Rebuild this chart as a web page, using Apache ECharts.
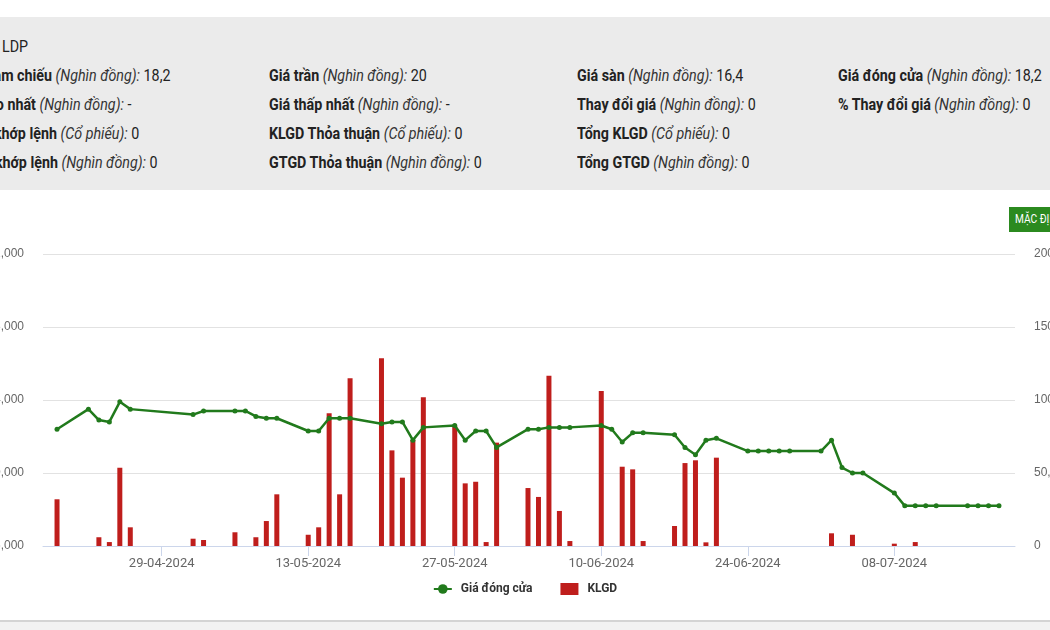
<!DOCTYPE html>
<html>
<head>
<meta charset="utf-8">
<script src="https://cdn.jsdelivr.net/npm/echarts@6/dist/echarts.min.js"></script>
<style>
  html, body { margin: 0; padding: 0; width: 1050px; height: 630px; overflow: hidden; background: #fff; }
  #chart { position: absolute; left: 0; top: 0; width: 1050px; height: 630px; }
  .panel { position: absolute; left: 0; top: 17px; width: 1050px; height: 173px; background: #ebebeb; z-index: 2; }
  .t { position: absolute; white-space: nowrap; font-family: Roboto, "Liberation Sans", sans-serif; font-size: 17px; color: #222; line-height: 20px;
       transform: scaleX(0.84); transform-origin: 0 50%; }
  .t b { font-weight: bold; }
  .t i { font-style: italic; color: #333; }
  .btn { position: absolute; left: 1009px; top: 207px; width: 60px; height: 25px; background: #2b8a1f; color: #fff; z-index: 2;
         font-family: Roboto, sans-serif; font-size: 12px; line-height: 25px; padding-left: 6px; box-sizing: border-box; white-space: nowrap; }
  .btn span { display: inline-block; transform: scaleX(0.85); transform-origin: 0 50%; }
  .foot { position: absolute; left: 0; top: 620px; width: 1050px; height: 10px; background: #f2f2f2; border-top: 2px solid #d4d4d4; z-index: 2; }
</style>
</head>
<body>
<div id="chart"></div>
<div class="panel">
  <div class="t" style="left:2px;top:19px">LDP</div>
  <div class="t" style="left:-44px;top:48px"><b>Giá tham chiếu</b> <i>(Nghìn đồng):</i> 18,2</div>
  <div class="t" style="left:-44px;top:77px"><b>Giá cao nhất</b> <i>(Nghìn đồng):</i> -</div>
  <div class="t" style="left:-45px;top:106px"><b>KLGD khớp lệnh</b> <i>(Cổ phiếu):</i> 0</div>
  <div class="t" style="left:-46px;top:135px"><b>GTGD khớp lệnh</b> <i>(Nghìn đồng):</i> 0</div>

  <div class="t" style="left:269px;top:48px"><b>Giá trần</b> <i>(Nghìn đồng):</i> 20</div>
  <div class="t" style="left:269px;top:77px"><b>Giá thấp nhất</b> <i>(Nghìn đồng):</i> -</div>
  <div class="t" style="left:269px;top:106px"><b>KLGD Thỏa thuận</b> <i>(Cổ phiếu):</i> 0</div>
  <div class="t" style="left:269px;top:135px"><b>GTGD Thỏa thuận</b> <i>(Nghìn đồng):</i> 0</div>

  <div class="t" style="left:577px;top:48px"><b>Giá sàn</b> <i>(Nghìn đồng):</i> 16,4</div>
  <div class="t" style="left:577px;top:77px"><b>Thay đổi giá</b> <i>(Nghìn đồng):</i> 0</div>
  <div class="t" style="left:577px;top:106px"><b>Tổng KLGD</b> <i>(Cổ phiếu):</i> 0</div>
  <div class="t" style="left:577px;top:135px"><b>Tổng GTGD</b> <i>(Nghìn đồng):</i> 0</div>

  <div class="t" style="left:838px;top:48px"><b>Giá đóng cửa</b> <i>(Nghìn đồng):</i> 18,2</div>
  <div class="t" style="left:838px;top:77px"><b>% Thay đổi giá</b> <i>(Nghìn đồng):</i> 0</div>
</div>
<div class="btn"><span>MẶC ĐỊNH</span></div>
<div class="foot"></div>
<script>
// trading days shown on the chart
const dates = [
  '2024-04-19', '2024-04-22', '2024-04-23', '2024-04-24', '2024-04-25', '2024-04-26',
  '2024-05-02', '2024-05-03',
  '2024-05-06', '2024-05-07', '2024-05-08', '2024-05-09', '2024-05-10',
  '2024-05-13', '2024-05-14', '2024-05-15', '2024-05-16', '2024-05-17',
  '2024-05-20', '2024-05-21', '2024-05-22', '2024-05-23', '2024-05-24',
  '2024-05-27', '2024-05-28', '2024-05-29', '2024-05-30', '2024-05-31',
  '2024-06-03', '2024-06-04', '2024-06-05', '2024-06-06', '2024-06-07',
  '2024-06-10', '2024-06-11', '2024-06-12', '2024-06-13', '2024-06-14',
  '2024-06-17', '2024-06-18', '2024-06-19', '2024-06-20', '2024-06-21',
  '2024-06-24', '2024-06-25', '2024-06-26', '2024-06-27', '2024-06-28',
  '2024-07-01', '2024-07-02', '2024-07-03', '2024-07-04', '2024-07-05',
  '2024-07-08', '2024-07-09', '2024-07-10', '2024-07-11', '2024-07-12',
  '2024-07-15', '2024-07-16', '2024-07-17', '2024-07-18'
];

// Giá đóng cửa (đồng)
const closePrice = [
  22400, 23500, 22900, 22800, 23900, 23500,
  23200, 23400,
  23400, 23400, 23100, 23000, 23000,
  22300, 22300, 23000, 23000, 23000,
  22700, 22800, 22800, 21800, 22500,
  22600, 21800, 22300, 22300, 21400,
  22400, 22400, 22500, 22500, 22500,
  22600, 22400, 21700, 22200, 22200,
  22100, 21400, 21000, 21800, 21900,
  21200, 21200, 21200, 21200, 21200,
  21200, 21800, 20300, 20000, 20000,
  18900, 18200, 18200, 18200, 18200,
  18200, 18200, 18200, 18200
];

// KLGD (cổ phiếu)
const volume = [
  32000, 0, 6000, 2700, 53600, 12800,
  5000, 4100,
  9400, 0, 6000, 17100, 35400,
  7700, 12800, 90900, 35400, 114900,
  128600, 65500, 46800, 72600, 101800,
  82200, 42900, 44000, 2700, 70800,
  39700, 33600, 116600, 24000, 3400,
  106200, 0, 54300, 52500, 3400,
  13700, 56800, 58700, 2500, 60500,
  0, 0, 0, 0, 0,
  0, 8700, 0, 7700, 0,
  1600, 0, 2700, 0, 0,
  0, 0, 0, 0
];

const tickDates = ['2024-04-29', '2024-05-13', '2024-05-27', '2024-06-10', '2024-06-24', '2024-07-08'];

const DAY = 86400000;
const ts = s => { const p = s.split('-'); return +new Date(+p[0], +p[1] - 1, +p[2]); };
const pad = n => (n < 10 ? '0' : '') + n;
const fmtNum = v => String(v).replace(/\B(?=(\d{3})+(?!\d))/g, ',');
const fmtDate = v => { const d = new Date(v); return pad(d.getDate()) + '-' + pad(d.getMonth() + 1) + '-' + d.getFullYear(); };

const chart = echarts.init(document.getElementById('chart'));
chart.setOption({
  animation: false,
  grid: { left: 43, right: 35, top: 254, bottom: 84, containLabel: false, outerBoundsMode: 'none' },
  legend: {
    top: 578,
    left: 'center',
    itemWidth: 18,
    itemHeight: 12,
    itemGap: 28,
    textStyle: { fontFamily: 'Roboto', fontWeight: 'bold', fontSize: 12, color: '#333', padding: [0, 0, 0, 4] },
    data: [
      { name: 'Giá đóng cửa' },
      { name: 'KLGD', icon: 'rect' }
    ]
  },
  xAxis: {
    type: 'value',
    min: ts(dates[0]) - 1.34 * DAY,
    max: ts(dates[dates.length - 1]) + 1.53 * DAY,
    axisLine: { lineStyle: { color: '#ccd6eb' } },
    axisTick: { show: true, length: 10, lineStyle: { color: '#ccd6eb' }, customValues: tickDates.map(ts) },
    axisLabel: {
      margin: 11,
      color: '#666',
      fontFamily: 'Roboto',
      fontSize: 13,
      customValues: tickDates.map(ts),
      formatter: fmtDate
    },
    splitLine: { show: false }
  },
  yAxis: [
    {
      type: 'value',
      min: 16000, max: 32000, interval: 4000,
      axisLine: { show: false },
      axisTick: { show: false },
      axisLabel: { margin: 19, color: '#666', fontSize: 12, fontFamily: 'Liberation Sans', formatter: fmtNum },
      splitLine: { lineStyle: { color: '#e2e2e2' } }
    },
    {
      type: 'value',
      min: 0, max: 200000, interval: 50000,
      axisLine: { show: false },
      axisTick: { show: false },
      axisLabel: { margin: 19, color: '#666', fontSize: 12, fontFamily: 'Liberation Sans', formatter: fmtNum },
      splitLine: { show: false }
    }
  ],
  series: [
    {
      name: 'KLGD',
      type: 'bar',
      yAxisIndex: 1,
      barWidth: 5,
      itemStyle: { color: '#bf1e1c' },
      data: dates.map((d, i) => [ts(d), volume[i]])
    },
    {
      name: 'Giá đóng cửa',
      type: 'line',
      yAxisIndex: 0,
      z: 5,
      symbol: 'circle',
      symbolSize: 5,
      lineStyle: { color: '#217a1c', width: 2.5 },
      itemStyle: { color: '#217a1c' },
      data: dates.map((d, i) => [ts(d), closePrice[i]])
    }
  ]
});
</script>
</body>
</html>
